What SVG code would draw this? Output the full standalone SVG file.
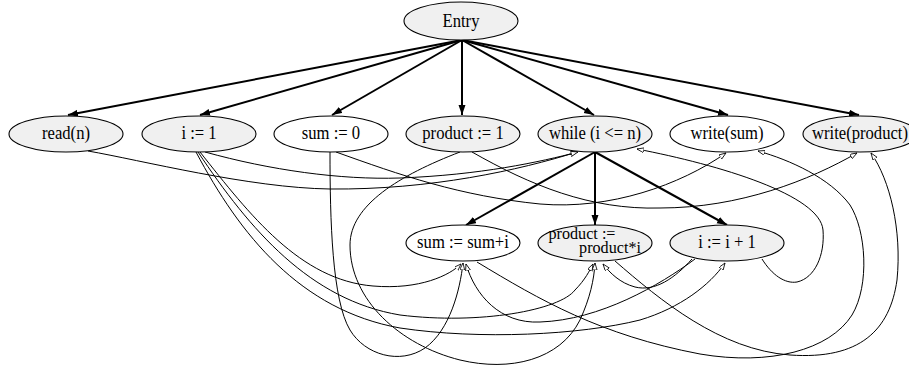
<svg xmlns="http://www.w3.org/2000/svg" width="909" height="368" viewBox="0 0 909 368">
<style>
.n ellipse{stroke:#000;stroke-width:1.1}
.g ellipse{fill:#f0f0f0}
.w ellipse{fill:#fff}
text{font-family:"Liberation Serif","Times New Roman",serif;font-size:18.5px;fill:#000;text-anchor:middle}
.sm{font-size:17px}
.thick{stroke:#000;stroke-width:2;fill:none;marker-end:url(#ah)}
.thin{stroke:#000;stroke-width:1;fill:none;marker-end:url(#at)}
</style>
<defs>
<marker id="ah" markerUnits="userSpaceOnUse" markerWidth="11" markerHeight="8" refX="10" refY="3.5" orient="auto" viewBox="0 0 11 8"><path d="M0,0 L10,3.5 L0,7 z" fill="#000"/></marker>
<marker id="at" markerUnits="userSpaceOnUse" markerWidth="8" markerHeight="6" refX="7" refY="2.5" orient="auto" viewBox="0 0 8 6"><path d="M0,0 L7,2.5 L0,5 z" fill="#fff" stroke="#000" stroke-width="0.8"/></marker>
</defs>
<rect width="909" height="368" fill="#fff"/>
<g id="connectors">
<path class="thick" d="M462,40 L68,115"/>
<path class="thick" d="M462,40 L200,115"/>
<path class="thick" d="M462,40 L332,115"/>
<path class="thick" d="M462,40 L462,115"/>
<path class="thick" d="M462,40 L594,115"/>
<path class="thick" d="M462,40 L728,115"/>
<path class="thick" d="M462,40 L859,115"/>
<path class="thick" d="M595,152 L466,225"/>
<path class="thick" d="M595,152 L595,225"/>
<path class="thick" d="M595,152 L727,225"/>
<path class="thin" d="M88,151 C140,160 250,188 330,189 C430,190 520,170 577,152"/>
<path class="thin" d="M205,152 C270,170 340,180 400,178 C480,175 540,162 578,152"/>
<path class="thin" d="M336,152 C400,175 460,196 540,204 C610,210 680,185 726,153"/>
<path class="thin" d="M472,152 C530,185 590,210 660,208 C740,208 810,180 857,153"/>
<path class="thin" d="M330,152 C330,220 332,300 350,330 C365,355 400,365 425,348 C450,330 460,290 463,263"/>
<path class="thin" d="M460,152 C400,175 350,205 350,245 C350,300 400,345 460,360 C510,372 560,360 580,320 C590,298 594,280 595,263"/>
<path class="thin" d="M200,152 C250,215 300,280 373,286 C420,290 450,275 461,264"/>
<path class="thin" d="M198,152 C250,230 310,300 400,315 C480,325 560,310 575,290 C585,280 590,270 593,264"/>
<path class="thin" d="M196,152 C240,235 300,310 400,328 C480,340 580,335 640,320 C680,308 710,285 725,263"/>
<path class="thin" d="M695,259 C660,285 600,320 540,322 C500,324 475,295 466,264"/>
<path class="thin" d="M692,259 C675,278 655,292 635,287 C620,283 610,273 603,264"/>
<path class="thin" d="M615,261 C660,300 720,350 790,355 C860,360 890,330 897,280 C902,230 890,180 871,153"/>
<path class="thin" d="M477,262 C540,300 600,335 700,354 C770,366 830,350 852,315 C870,285 866,230 850,205 C830,178 790,160 758,151"/>
<path class="thin" d="M762,259 C772,275 785,284 797,282 C815,278 825,255 823,230 C820,195 720,165 637,149"/>
</g>
<g id="entry" class="n g"><ellipse cx="461" cy="21" rx="57" ry="19"/><text transform="translate(461,27) scale(0.9,1)">Entry</text></g>
<g id="read_n" class="n g"><ellipse cx="66" cy="134" rx="57" ry="18"/><text transform="translate(66,139) scale(0.9,1)">read(n)</text></g>
<g id="i_1" class="n g"><ellipse cx="199" cy="134" rx="57" ry="18"/><text transform="translate(199,139) scale(0.9,1)">i := 1</text></g>
<g id="sum_0" class="n w"><ellipse cx="331" cy="134" rx="57" ry="18"/><text transform="translate(331,139) scale(0.9,1)">sum := 0</text></g>
<g id="product_1" class="n g"><ellipse cx="463" cy="134" rx="57" ry="18"/><text transform="translate(463,139) scale(0.9,1)">product := 1</text></g>
<g id="while" class="n g"><ellipse cx="595" cy="134" rx="57" ry="18"/><text transform="translate(595,139) scale(0.9,1)">while (i &lt;= n)</text></g>
<g id="write_sum" class="n w"><ellipse cx="727" cy="134" rx="57" ry="18"/><text transform="translate(727,139) scale(0.9,1)">write(sum)</text></g>
<g id="write_product" class="n g"><ellipse cx="860" cy="134" rx="57" ry="18"/><text transform="translate(860,139) scale(0.9,1)">write(product)</text></g>
<g id="sum_sum_i" class="n w"><ellipse cx="463" cy="243" rx="57" ry="18"/><text transform="translate(463,248) scale(0.9,1)">sum := sum+i</text></g>
<g id="product_product_i" class="n g"><ellipse cx="595" cy="243" rx="57" ry="18"/><text class="sm" transform="translate(582,239) scale(0.95,1)">product :=</text><text class="sm" transform="translate(610,253) scale(0.95,1)">product*i</text></g>
<g id="i_i_1" class="n g"><ellipse cx="727" cy="243" rx="57" ry="18"/><text transform="translate(727,248) scale(0.9,1)">i := i + 1</text></g>
</svg>
